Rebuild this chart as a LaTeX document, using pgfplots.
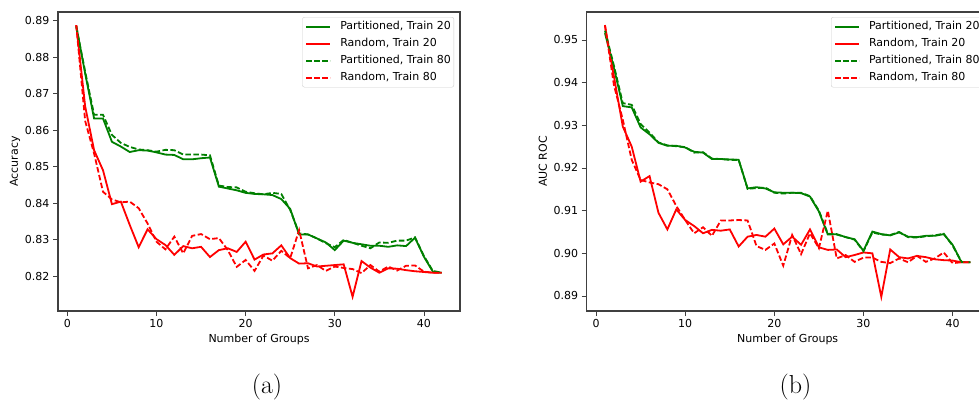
\documentclass[border=0pt]{standalone}
\usepackage{pgfplots}
\pgfplotsset{compat=1.18}
\usepackage{pgfplotstable}
\usepackage{fontspec}
\newfontfamily\dejavu{DejaVu Sans}
\definecolor{mgreen}{rgb}{0,0.5,0}
\definecolor{mred}{rgb}{1,0,0}

\pgfplotstableread{
n PS RS PD RD
1 0.8886 0.8888 0.8884 0.8888
2 0.8755 0.8665 0.8760 0.8625
3 0.8632 0.8545 0.8642 0.8536
4 0.8632 0.8490 0.8642 0.8431
5 0.8568 0.8397 0.8587 0.8410
6 0.8555 0.8404 0.8565 0.8402
7 0.8540 0.8340 0.8554 0.8404
8 0.8545 0.8279 0.8547 0.8386
9 0.8544 0.8328 0.8545 0.8344
10 0.8539 0.8301 0.8541 0.8294
11 0.8533 0.8285 0.8546 0.8273
12 0.8532 0.8258 0.8545 0.8308
13 0.8520 0.8282 0.8533 0.8262
14 0.8520 0.8276 0.8533 0.8310
15 0.8523 0.8280 0.8533 0.8315
16 0.8525 0.8252 0.8531 0.8301
17 0.8445 0.8271 0.8448 0.8304
18 0.8440 0.8276 0.8444 0.8271
19 0.8435 0.8266 0.8443 0.8225
20 0.8428 0.8294 0.8431 0.8244
21 0.8425 0.8245 0.8427 0.8214
22 0.8424 0.8259 0.8424 0.8256
23 0.8422 0.8262 0.8428 0.8242
24 0.8411 0.8284 0.8425 0.8269
25 0.8384 0.8249 0.8381 0.8249
26 0.8314 0.8234 0.8317 0.8326
27 0.8314 0.8235 0.8314 0.8221
28 0.8303 0.8226 0.8303 0.8230
29 0.8292 0.8228 0.8290 0.8214
30 0.8271 0.8230 0.8279 0.8226
31 0.8297 0.8232 0.8299 0.8222
32 0.8291 0.8143 0.8291 0.8219
33 0.8287 0.8241 0.8283 0.8208
34 0.8283 0.8223 0.8276 0.8230
35 0.8283 0.8209 0.8292 0.8212
36 0.8280 0.8221 0.8291 0.8226
37 0.8284 0.8220 0.8297 0.8215
38 0.8282 0.8216 0.8297 0.8228
39 0.8305 0.8213 0.8306 0.8229
40 0.8253 0.8211 0.8255 0.8212
41 0.8212 0.8209 0.8214 0.8209
42 0.8209 0.8209 0.8209 0.8209
}\acc

\pgfplotstableread{
n PS RS PD RD
1 0.9516 0.9533 0.9522 0.9535
2 0.9435 0.9415 0.9440 0.9395
3 0.9345 0.9297 0.9352 0.9313
4 0.9342 0.9250 0.9348 0.9219
5 0.9295 0.9168 0.9303 0.9172
6 0.9279 0.9181 0.9283 0.9166
7 0.9259 0.9095 0.9260 0.9162
8 0.9252 0.9056 0.9253 0.9150
9 0.9252 0.9103 0.9251 0.9111
10 0.9248 0.9078 0.9249 0.9078
11 0.9238 0.9064 0.9236 0.9047
12 0.9236 0.9047 0.9237 0.9061
13 0.9221 0.9055 0.9222 0.9041
14 0.9221 0.9053 0.9221 0.9077
15 0.9220 0.9056 0.9219 0.9077
16 0.9219 0.9016 0.9219 0.9078
17 0.9152 0.9039 0.9151 0.9077
18 0.9155 0.9043 0.9153 0.9017
19 0.9152 0.9039 0.9154 0.9008
20 0.9143 0.9058 0.9142 0.9023
21 0.9142 0.9021 0.9140 0.8971
22 0.9142 0.9039 0.9142 0.9043
23 0.9141 0.9020 0.9142 0.8998
24 0.9133 0.9056 0.9134 0.9047
25 0.9098 0.9014 0.9100 0.9012
26 0.9044 0.9008 0.9046 0.9100
27 0.9045 0.9009 0.9044 0.8988
28 0.9038 0.8991 0.9038 0.8996
29 0.9033 0.8996 0.9032 0.8980
30 0.9006 0.9002 0.9005 0.8990
31 0.9051 0.9000 0.9049 0.8990
32 0.9045 0.8898 0.9044 0.8980
33 0.9042 0.9009 0.9043 0.8977
34 0.9049 0.8991 0.9050 0.8988
35 0.9039 0.8988 0.9038 0.8979
36 0.9038 0.8994 0.9037 0.8994
37 0.9041 0.8991 0.9040 0.8980
38 0.9041 0.8986 0.9042 0.8988
39 0.9045 0.8984 0.9046 0.9002
40 0.9020 0.8983 0.9018 0.8977
41 0.8979 0.8979 0.8980 0.8979
42 0.8979 0.8979 0.8979 0.8979
}\auc

\newcommand{\mplfont}{\dejavu\fontsize{11}{13}\selectfont}

\pgfplotsset{
  mpl/.style={
    scale only axis, width=402pt, height=299pt, anchor=south west,
    xmin=-1.05, xmax=44.05,
    xtick={0,10,20,30,40},
    xtick pos=bottom, ytick pos=left,
    tick align=outside, major tick length=5pt,
    tick style={black!75, line width=0.8pt},
    axis line style={black!75, line width=1.1pt},
    /pgf/number format/assume math mode=true,
    ticklabel style={font=\mplfont},
    label style={font=\mplfont},
    scaled y ticks=false,
    yticklabel style={/pgf/number format/.cd, fixed, fixed zerofill, precision=2},
    xlabel={Number of Groups},
    xlabel style={at={(axis description cs:0.5,-0.106)}, anchor=base},
    legend cell align=left,
    legend image code/.code={\draw[##1] (0pt,0pt) -- (24pt,0pt);},
    legend style={font=\mplfont, at={(1,1)}, anchor=north east,
      xshift=-6pt, yshift=-5pt,
      draw=black!20, rounded corners=2pt, fill=white, fill opacity=0.8, text opacity=1,
      inner xsep=3pt, inner ysep=4.25pt, row sep=6.5pt, column sep=9pt,
      nodes={inner sep=0pt, text height=8pt, text depth=2.5pt}},
  },
  sol/.style={line width=1.8pt, solid},
  dsh/.style={line width=1.8pt, dash pattern=on 5.5pt off 2.5pt},
}

\begin{document}
\begin{tikzpicture}[x=1pt,y=1pt]
\useasboundingbox (0,0) rectangle (979,402);
\clip (0,0) rectangle (979,402);

\begin{axis}[mpl, at={(58pt,91pt)},
  ymin=0.8104, ymax=0.8924,
  ytick={0.82,0.83,0.84,0.85,0.86,0.87,0.88,0.89},
  ylabel={Accuracy},
  ylabel style={at={(axis description cs:-0.107,0.5)}, anchor=center},
]
\addplot[mgreen, sol] table[x=n,y=PS] {\acc};
\addlegendentry{Partitioned, Train 20}
\addplot[mred, sol] table[x=n,y=RS] {\acc};
\addlegendentry{Random, Train 20}
\addplot[mgreen, dsh] table[x=n,y=PD] {\acc};
\addlegendentry{Partitioned, Train 80}
\addplot[mred, dsh] table[x=n,y=RD] {\acc};
\addlegendentry{Random, Train 80}
\end{axis}

\begin{axis}[mpl, at={(586.7pt,91pt)},
  ymin=0.88648, ymax=0.95656,
  ytick={0.89,0.90,0.91,0.92,0.93,0.94,0.95},
  ylabel={AUC ROC},
  ylabel style={at={(axis description cs:-0.109,0.5)}, anchor=center},
]
\addplot[mgreen, sol] table[x=n,y=PS] {\auc};
\addlegendentry{Partitioned, Train 20}
\addplot[mred, sol] table[x=n,y=RS] {\auc};
\addlegendentry{Random, Train 20}
\addplot[mgreen, dsh] table[x=n,y=PD] {\auc};
\addlegendentry{Partitioned, Train 80}
\addplot[mred, dsh] table[x=n,y=RD] {\auc};
\addlegendentry{Random, Train 80}
\end{axis}

\node[anchor=base, font=\fontsize{26}{30}\selectfont] at (267,9) {(a)};
\node[anchor=base, font=\fontsize{26}{30}\selectfont] at (795.5,9) {(b)};
\end{tikzpicture}
\end{document}
